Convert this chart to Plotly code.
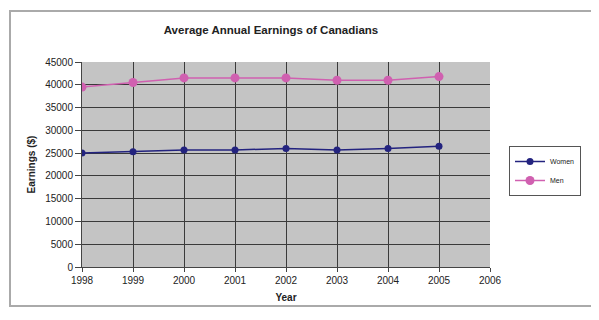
import plotly.graph_objects as go

years = [1998, 1999, 2000, 2001, 2002, 2003, 2004, 2005]
women = [25000, 25300, 25700, 25700, 26000, 25700, 26000, 26500]
men = [39500, 40500, 41500, 41500, 41500, 41000, 41000, 41800]
y_ticks = [0, 5000, 10000, 15000, 20000, 25000, 30000, 35000, 40000, 45000]
x_ticks = [1998, 1999, 2000, 2001, 2002, 2003, 2004, 2005, 2006]

fig = go.Figure()
fig.add_trace(go.Scatter(x=years, y=women, name="Women", mode="lines+markers",
                         line=dict(color="#23237f", width=1.5),
                         marker=dict(color="#23237f", size=7, symbol="circle")))
fig.add_trace(go.Scatter(x=years, y=men, name="Men", mode="lines+markers",
                         line=dict(color="#d060b0", width=1.5),
                         marker=dict(color="#d060b0", size=9, symbol="circle")))

# page body has an 8px margin; figure is sized to fill the rest of the window
OFF = 8
W, H = 599 - OFF, 320 - OFF
L, R, T, B = 82 - OFF, 109, 62 - OFF, 53
pw, ph = W - L - R, H - T - B

def px(x):
    return (x - OFF - L) / pw

def py(y):
    return (H - B - (y - OFF)) / ph

fig.update_layout(
    width=W, height=H,
    margin=dict(l=L, r=R, t=T, b=B),
    paper_bgcolor="white",
    plot_bgcolor="#c4c4c4",
    font=dict(family="Arial, Liberation Sans, sans-serif", size=10, color="#222"),
    title=dict(text="<b>Average Annual Earnings of Canadians</b>", x=(271 - OFF) / W, xanchor="center",
               xref="container", y=1 - (30 - OFF) / H, yref="container", yanchor="middle",
               font=dict(size=11.5, color="#222")),
    xaxis=dict(range=[1998, 2006], tickvals=x_ticks, ticktext=[str(v) for v in x_ticks],
               showgrid=True, gridcolor="#3a3a3a", gridwidth=1.3,
               ticks="outside", ticklen=4, tickcolor="#444",
               showline=True, linecolor="#444", zeroline=False,
               title=dict(text="<b>Year</b>", font=dict(size=10), standoff=8),
               tickfont=dict(size=10)),
    yaxis=dict(range=[0, 45000], tickvals=y_ticks, ticktext=[str(v) for v in y_ticks],
               showgrid=True, gridcolor="#3a3a3a", gridwidth=1.3,
               ticks="outside", ticklen=6, tickcolor="#444",
               showline=True, linecolor="#444", zeroline=False,
               title=dict(text="<b>Earnings ($)</b>", font=dict(size=10), standoff=7),
               tickfont=dict(size=10)),
    legend=dict(x=px(509), y=py(146), xanchor="left", yanchor="top",
                bordercolor="#555", borderwidth=1, bgcolor="white",
                font=dict(size=7), tracegroupgap=0, itemwidth=30),
    shapes=[dict(type="rect", xref="paper", yref="paper",
                 x0=px(10), x1=px(640), y0=py(306), y1=py(11),
                 line=dict(color="#aaa", width=2), layer="below")],
)

fig.write_html("out.html")
